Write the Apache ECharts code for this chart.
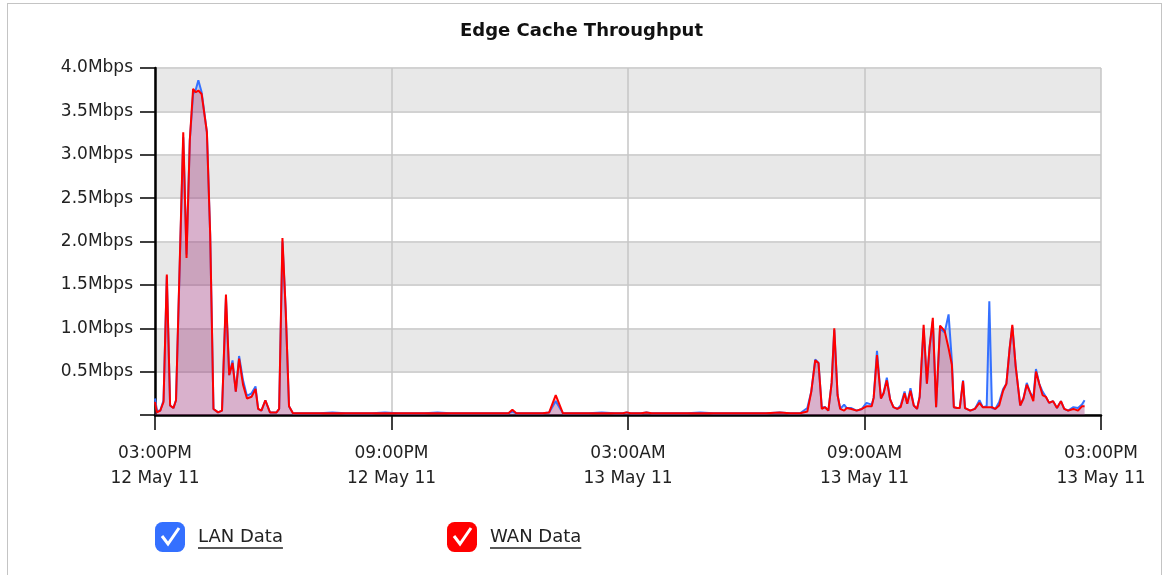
<!DOCTYPE html>
<html>
<head>
<meta charset="utf-8">
<script src="https://cdn.jsdelivr.net/npm/echarts@6/dist/echarts.min.js"></script>
<style>
  html, body { margin: 0; padding: 0; background: #fff; }
  #frame { position: absolute; left: 7px; top: 3px; width: 1153px; height: 600px; border: 1px solid #c4c4c4; }
  #chart { position: absolute; left: 0; top: 0; width: 1163px; height: 575px; }
</style>
</head>
<body>
<div id="frame"></div>
<div id="chart"></div>
<script>
// minutes after 03:00PM 12 May 11
const times = [
  0, 3, 8, 13, 18, 23, 28, 32, 43, 48, 53, 58, 62, 66, 71, 79, 84, 89, 96, 102,
  108, 113, 118, 123, 128, 134, 140, 147, 153, 157, 162, 168, 175, 185, 189, 194, 199, 204, 210,
  230, 250, 270, 290, 310, 330, 350, 370, 390, 410, 430, 450, 470, 490, 510, 530, 538, 544, 550,
  570, 590, 600, 610, 621, 640, 660, 680, 700, 712, 718, 724, 740, 748, 756,
  770, 790, 810, 830, 850, 870, 890, 910, 930, 951, 967, 982, 993,
  999, 1005, 1010, 1015, 1020, 1025, 1030, 1034, 1039, 1043, 1049, 1053, 1060, 1068, 1076, 1083,
  1091, 1094, 1099, 1105, 1109, 1114, 1119, 1124, 1130, 1135, 1141, 1145, 1150, 1155, 1160, 1164,
  1170, 1175, 1179, 1184, 1189, 1195, 1202, 1208, 1213, 1216, 1221, 1225, 1230, 1233, 1241, 1248,
  1255, 1260, 1266, 1270, 1274, 1279, 1285, 1291, 1296, 1301, 1305, 1310, 1317, 1322, 1327, 1332,
  1337, 1341, 1346, 1351, 1356, 1361, 1367, 1373, 1379, 1384, 1390, 1398, 1405, 1411, 1415
]
const lanData = [
  0.19, 0.05, 0.05, 0.17, 1.60, 0.11, 0.08, 0.17, 3.20, 1.85, 3.17, 3.70, 3.75, 3.86, 3.72, 3.26, 2.08, 0.07, 0.03, 0.05,
  1.35, 0.46, 0.63, 0.27, 0.68, 0.40, 0.22, 0.25, 0.33, 0.07, 0.05, 0.17, 0.03, 0.03, 0.07, 2.00, 1.20, 0.10, 0.02,
  0.02, 0.02, 0.03, 0.02, 0.02, 0.02, 0.03, 0.02, 0.02, 0.02, 0.03, 0.02, 0.02, 0.02, 0.02, 0.02, 0.02, 0.04, 0.02,
  0.02, 0.02, 0.03, 0.16, 0.02, 0.02, 0.02, 0.03, 0.02, 0.02, 0.03, 0.02, 0.02, 0.03, 0.02,
  0.02, 0.02, 0.02, 0.03, 0.02, 0.02, 0.02, 0.02, 0.02, 0.03, 0.02, 0.02, 0.08,
  0.27, 0.64, 0.60, 0.09, 0.09, 0.05, 0.37, 0.98, 0.23, 0.07, 0.12, 0.08, 0.08, 0.05, 0.07, 0.14,
  0.12, 0.20, 0.74, 0.19, 0.25, 0.43, 0.18, 0.09, 0.07, 0.11, 0.27, 0.13, 0.31, 0.11, 0.07, 0.21,
  1.00, 0.36, 0.78, 1.08, 0.09, 1.00, 0.95, 1.16, 0.62, 0.09, 0.08, 0.08, 0.40, 0.08, 0.05, 0.07,
  0.17, 0.09, 0.10, 1.31, 0.08, 0.07, 0.15, 0.30, 0.36, 0.77, 1.02, 0.57, 0.11, 0.19, 0.37, 0.26,
  0.20, 0.53, 0.36, 0.27, 0.21, 0.14, 0.16, 0.08, 0.16, 0.07, 0.05, 0.09, 0.08, 0.12, 0.17
]
const wanData = [
  0.15, 0.03, 0.05, 0.15, 1.62, 0.11, 0.08, 0.17, 3.26, 1.81, 3.17, 3.76, 3.72, 3.74, 3.70, 3.26, 2.08, 0.07, 0.03, 0.05,
  1.39, 0.46, 0.60, 0.27, 0.65, 0.35, 0.19, 0.21, 0.30, 0.07, 0.05, 0.17, 0.03, 0.03, 0.07, 2.04, 1.20, 0.10, 0.02,
  0.02, 0.02, 0.02, 0.02, 0.02, 0.02, 0.02, 0.02, 0.02, 0.02, 0.02, 0.02, 0.02, 0.02, 0.02, 0.02, 0.02, 0.06, 0.02,
  0.02, 0.02, 0.03, 0.23, 0.02, 0.02, 0.02, 0.02, 0.02, 0.02, 0.03, 0.02, 0.02, 0.03, 0.02,
  0.02, 0.02, 0.02, 0.02, 0.02, 0.02, 0.02, 0.02, 0.02, 0.03, 0.02, 0.02, 0.04,
  0.27, 0.63, 0.60, 0.07, 0.09, 0.05, 0.37, 1.00, 0.23, 0.07, 0.05, 0.08, 0.07, 0.05, 0.07, 0.10,
  0.10, 0.20, 0.69, 0.19, 0.25, 0.40, 0.18, 0.09, 0.07, 0.09, 0.25, 0.13, 0.28, 0.11, 0.07, 0.21,
  1.04, 0.36, 0.78, 1.12, 0.09, 1.03, 0.97, 0.77, 0.58, 0.09, 0.08, 0.08, 0.39, 0.08, 0.05, 0.07,
  0.14, 0.09, 0.09, 0.09, 0.09, 0.07, 0.11, 0.28, 0.36, 0.77, 1.04, 0.57, 0.11, 0.19, 0.35, 0.26,
  0.16, 0.50, 0.36, 0.23, 0.21, 0.14, 0.16, 0.08, 0.16, 0.07, 0.05, 0.07, 0.05, 0.10, 0.10
]
const xTickLabels = ['03:00PM\n12 May 11', '09:00PM\n12 May 11', '03:00AM\n13 May 11', '09:00AM\n13 May 11', '03:00PM\n13 May 11']
const yTickLabels = ['', '0.5Mbps', '1.0Mbps', '1.5Mbps', '2.0Mbps', '2.5Mbps', '3.0Mbps', '3.5Mbps', '4.0Mbps']

const lanColor = '#3470ff'
const wanColor = '#ff0000'
const font = 'DejaVu Sans'

const pairs = vals => times.map((t, i) => [t, vals[i]])

function textWidth(str, size){
  const ctx = document.createElement('canvas').getContext('2d')
  ctx.font = size + 'px "' + font + '"'
  return ctx.measureText(str).width
}

// white tick inside the legend box
function checkMark(left){
  return {
    type: 'polyline',
    shape: { points: [[left + 7, 536], [left + 13, 544], [left + 24, 528]] },
    style: { stroke: '#fff', lineWidth: 3, fill: null },
    z: 100
  }
}
function underline(left, str){
  return {
    type: 'line',
    shape: { x1: left, y1: 548, x2: left + textWidth(str, 18), y2: 548 },
    style: { stroke: '#222', lineWidth: 1.5 },
    z: 100
  }
}

function legendFor(name, color, left){
  return {
    left: left, top: 522, padding: 0, itemWidth: 30, itemHeight: 30, selectedMode: false,
    data: [{ name: name, icon: 'roundRect', itemStyle: { color: color, borderWidth: 0 } }],
    textStyle: { fontSize: 18, color: '#222', padding: [0, 0, 0, 8] }
  }
}

var myChart = echarts.init(document.getElementById('chart'))

const option = {
  animation: false,
  textStyle: { fontFamily: font },
  title: {
    text: 'Edge Cache Throughput',
    left: 'center',
    top: 17,
    textStyle: { fontSize: 18, fontWeight: 'bold', color: '#111', fontFamily: font }
  },
  legend: [
    legendFor('LAN Data', lanColor, 155),
    legendFor('WAN Data', wanColor, 447)
  ],
  graphic: [
    checkMark(155), checkMark(447),
    underline(198, 'LAN Data'), underline(490, 'WAN Data')
  ],
  grid: { left: 155, right: 62, top: 68, bottom: 160 },
  xAxis: {
    type: 'value',
    min: 0,
    max: 1440,
    interval: 360,
    axisLine: { show: true, lineStyle: { color: '#000', width: 2.5 } },
    axisTick: { show: true, length: 15, lineStyle: { color: '#000', width: 1.5 } },
    axisLabel: {
      margin: 26,
      fontSize: 17,
      lineHeight: 25,
      color: '#222',
      formatter: v => xTickLabels[Math.round(v / 360)]
    },
    splitLine: { show: true, lineStyle: { color: '#c6c6c6', width: 1.5 } }
  },
  yAxis: {
    type: 'value',
    min: 0,
    max: 4,
    interval: 0.5,
    axisLine: { show: true, lineStyle: { color: '#000', width: 2.5 } },
    axisTick: { show: true, length: 15, lineStyle: { color: '#000', width: 1.5 } },
    axisLabel: {
      margin: 22,
      fontSize: 17,
      color: '#222',
      formatter: v => yTickLabels[Math.round(v / 0.5)]
    },
    splitLine: { show: true, lineStyle: { color: '#d2d2d2', width: 2 } },
    splitArea: { show: true, areaStyle: { color: ['#ffffff', '#e8e8e8'] } }
  },
  series: [
    {
      name: 'LAN Data',
      type: 'line',
      showSymbol: false,
      silent: true,
      data: pairs(lanData),
      lineStyle: { color: lanColor, width: 2 },
      itemStyle: { color: lanColor },
      areaStyle: { color: lanColor, opacity: 0.23 }
    },
    {
      name: 'WAN Data',
      type: 'line',
      showSymbol: false,
      silent: true,
      data: pairs(wanData),
      lineStyle: { color: wanColor, width: 2 },
      itemStyle: { color: wanColor },
      areaStyle: { color: wanColor, opacity: 0.2 }
    }
  ]
}

myChart.setOption(option)
</script>
</body>
</html>
